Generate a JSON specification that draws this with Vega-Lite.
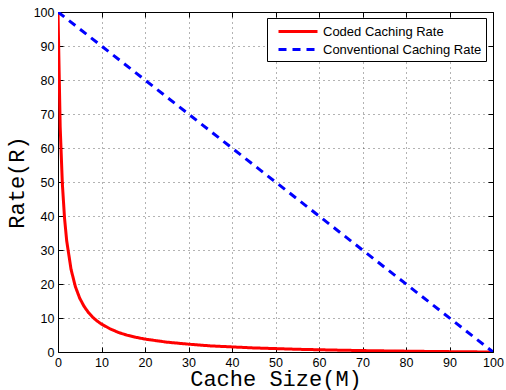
{
  "$schema": "https://vega.github.io/schema/vega-lite/v6.json",
  "autosize": {"type": "none"},
  "width": 435,
  "height": 340,
  "padding": {"left": 58, "top": 12, "right": 13, "bottom": 38},
  "background": "white",
  "config": {
    "view": {"stroke": null},
    "axis": {
      "labelFont": "Liberation Sans",
      "labelFontSize": 12.5,
      "labelColor": "#000",
      "labelFlush": false,
      "domainColor": "#000",
      "tickColor": "#000",
      "tickSize": -5,
      "titleColor": "#000",
      "titleFont": "Liberation Mono",
      "titleFontSize": 22,
      "titleFontWeight": "normal"
    }
  },
  "data": {
    "values": [
      {"M": 0, "R": 100, "s": "Coded Caching Rate"},
      {"M": 0.5, "R": 66.3, "s": "Coded Caching Rate"},
      {"M": 1, "R": 49.5, "s": "Coded Caching Rate"},
      {"M": 1.5, "R": 39.4, "s": "Coded Caching Rate"},
      {"M": 2, "R": 32.7, "s": "Coded Caching Rate"},
      {"M": 3, "R": 24.3, "s": "Coded Caching Rate"},
      {"M": 4, "R": 19.2, "s": "Coded Caching Rate"},
      {"M": 5, "R": 15.8, "s": "Coded Caching Rate"},
      {"M": 6, "R": 13.4, "s": "Coded Caching Rate"},
      {"M": 7, "R": 11.6, "s": "Coded Caching Rate"},
      {"M": 8, "R": 10.2, "s": "Coded Caching Rate"},
      {"M": 9, "R": 9.1, "s": "Coded Caching Rate"},
      {"M": 10, "R": 8.2, "s": "Coded Caching Rate"},
      {"M": 12, "R": 6.8, "s": "Coded Caching Rate"},
      {"M": 14, "R": 5.7, "s": "Coded Caching Rate"},
      {"M": 16, "R": 4.9, "s": "Coded Caching Rate"},
      {"M": 18, "R": 4.3, "s": "Coded Caching Rate"},
      {"M": 20, "R": 3.8, "s": "Coded Caching Rate"},
      {"M": 25, "R": 2.9, "s": "Coded Caching Rate"},
      {"M": 30, "R": 2.3, "s": "Coded Caching Rate"},
      {"M": 35, "R": 1.8, "s": "Coded Caching Rate"},
      {"M": 40, "R": 1.5, "s": "Coded Caching Rate"},
      {"M": 45, "R": 1.2, "s": "Coded Caching Rate"},
      {"M": 50, "R": 1.0, "s": "Coded Caching Rate"},
      {"M": 55, "R": 0.8, "s": "Coded Caching Rate"},
      {"M": 60, "R": 0.66, "s": "Coded Caching Rate"},
      {"M": 65, "R": 0.53, "s": "Coded Caching Rate"},
      {"M": 70, "R": 0.42, "s": "Coded Caching Rate"},
      {"M": 75, "R": 0.33, "s": "Coded Caching Rate"},
      {"M": 80, "R": 0.25, "s": "Coded Caching Rate"},
      {"M": 85, "R": 0.17, "s": "Coded Caching Rate"},
      {"M": 90, "R": 0.11, "s": "Coded Caching Rate"},
      {"M": 95, "R": 0.05, "s": "Coded Caching Rate"},
      {"M": 100, "R": 0, "s": "Coded Caching Rate"},
      {"M": 0, "R": 100, "s": "Conventional Caching Rate"},
      {"M": 100, "R": 0, "s": "Conventional Caching Rate"}
    ]
  },
  "layer": [
    {
      "mark": {"type": "line", "strokeWidth": 3, "clip": true},
      "encoding": {
        "x": {
          "field": "M", "type": "quantitative",
          "scale": {"domain": [0, 100], "nice": false},
          "axis": {"orient": "bottom", "values": [0,10,20,30,40,50,60,70,80,90,100], "title": "Cache Size(M)", "titlePadding": 0, "labelPadding": 9, "grid": true, "gridColor": "#000", "gridDash": [1, 4], "gridOpacity": 0.6}
        },
        "y": {
          "field": "R", "type": "quantitative",
          "scale": {"domain": [0, 100], "nice": false},
          "axis": {"orient": "left", "values": [0,10,20,30,40,50,60,70,80,90,100], "title": "Rate(R)", "titlePadding": 5, "labelPadding": 9, "grid": true, "gridColor": "#000", "gridDash": [1, 4], "gridOpacity": 0.6}
        },
        "color": {
          "field": "s", "type": "nominal",
          "scale": {"domain": ["Coded Caching Rate", "Conventional Caching Rate"], "range": ["#ff0000", "#0000ff"]},
          "legend": {
            "title": null,
            "orient": "none",
            "legendX": 209,
            "legendY": 6,
            "direction": "vertical",
            "fillColor": "white",
            "strokeColor": "#000",
            "padding": 4,
            "rowPadding": 1,
            "symbolType": "M-0.25,0H4.625",
            "symbolSize": 256,
            "symbolStrokeWidth": 3,
            "labelFont": "Liberation Sans",
            "labelFontSize": 13,
            "labelLimit": 400,
            "labelColor": "#000",
            "labelOffset": 33
          }
        },
        "strokeDash": {
          "field": "s", "type": "nominal",
          "scale": {"domain": ["Coded Caching Rate", "Conventional Caching Rate"], "range": [[1, 0], [8, 6]]},
          "legend": null
        }
      }
    },
    {
      "mark": {"type": "rule", "opacity": 0},
      "encoding": {
        "x": {
          "field": "M", "type": "quantitative",
          "scale": {"domain": [0, 100], "nice": false},
          "axis": {"orient": "top", "values": [0,10,20,30,40,50,60,70,80,90,100], "labels": false, "title": null, "grid": false}
        },
        "y": {
          "field": "R", "type": "quantitative",
          "scale": {"domain": [0, 100], "nice": false},
          "axis": {"orient": "right", "values": [0,10,20,30,40,50,60,70,80,90,100], "labels": false, "title": null, "grid": false}
        }
      }
    }
  ],
  "resolve": {"axis": {"x": "independent", "y": "independent"}}
}
